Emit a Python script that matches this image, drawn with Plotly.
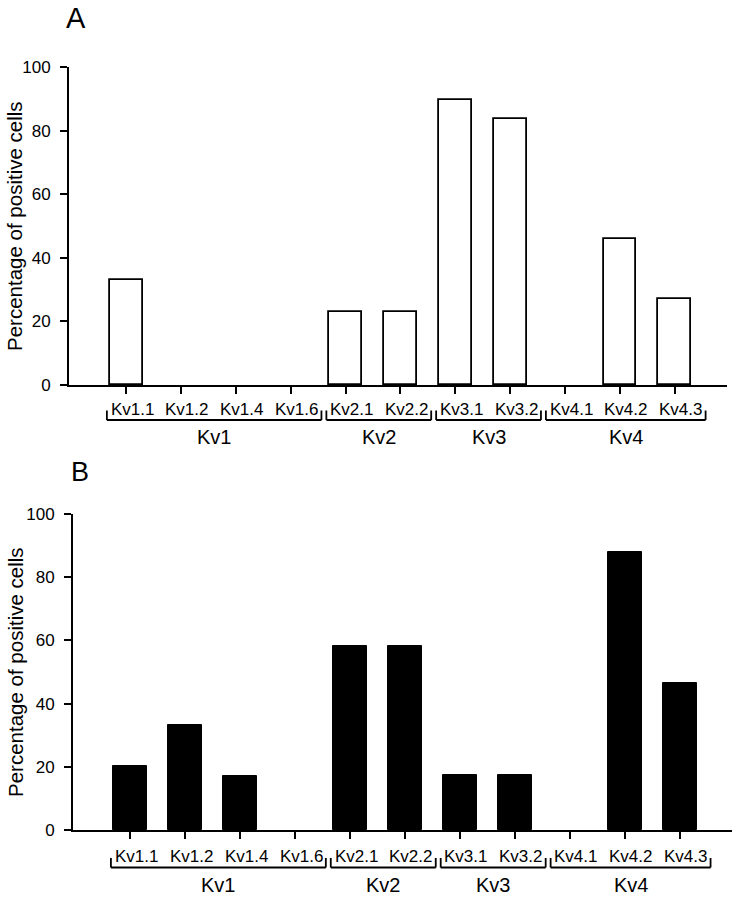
import plotly.graph_objects as go

categories = ["Kv1.1", "Kv1.2", "Kv1.4", "Kv1.6", "Kv2.1", "Kv2.2",
              "Kv3.1", "Kv3.2", "Kv4.1", "Kv4.2", "Kv4.3"]
values_a = [33, 0, 0, 0, 23, 23, 89.5, 83.5, 0, 46, 27]
values_b = [20.3, 33.3, 17.2, 0, 58.3, 58.3, 17.4, 17.4, 0, 88, 46.5]
groups = ["Kv1", "Kv2", "Kv3", "Kv4"]
group_first = [0, 4, 6, 8]
group_last = [3, 5, 7, 10]
y_ticks = [0, 20, 40, 60, 80, 100]
y_title = "Percentage of positive cells"
panel_labels = ["A", "B"]

W, H = 737, 900
FONT = "Liberation Sans, Arial, sans-serif"


def px_y(p):
    return 1 - p / H


def px_x(p):
    return p / W


def visible(vals):
    # zero-valued bars are drawn as nothing (they sit on the axis line)
    return [v if v > 0 else None for v in vals]


# pixel geometry of the two panels (screen pixels)
panels = [
    dict(l=69, r=727, t=67, b=385, lab_dy=24, br_dy=35, brt_dy=25.5, grp_dy=52,
         letter=(76, 18, 29)),
    dict(l=73, r=732, t=514, b=830, lab_dy=26.5, br_dy=37.5, brt_dy=28, grp_dy=55,
         letter=(80, 472, 27)),
]

fig = go.Figure()

fig.add_trace(go.Bar(x=categories, y=visible(values_a), width=0.6,
                     marker=dict(color="white", line=dict(color="black", width=1.8)),
                     xaxis="x", yaxis="y", showlegend=False))
fig.add_trace(go.Bar(x=categories, y=visible(values_b), width=0.62,
                     marker=dict(color="black", line=dict(color="black", width=1)),
                     xaxis="x2", yaxis="y2", showlegend=False))

xr = [-1.04, 10.95]
annotations = []
shapes = []
for k, p in enumerate(panels):
    xa = "x" if k == 0 else "x2"
    ya = "y" if k == 0 else "y2"
    xkey = "xaxis" if k == 0 else "xaxis2"
    ykey = "yaxis" if k == 0 else "yaxis2"
    fig.layout[xkey] = dict(
        domain=[px_x(p["l"]), px_x(p["r"])], anchor=ya, type="category",
        range=xr, showline=True, linecolor="black", linewidth=2,
        ticks="outside", ticklen=7, tickwidth=1.8, tickcolor="black",
        showticklabels=False, showgrid=False, zeroline=False, automargin=False,
        categoryorder="array", categoryarray=categories,
    )
    fig.layout[ykey] = dict(
        domain=[px_y(p["b"]), px_y(p["t"])], anchor=xa,
        range=[0, 100], tickvals=y_ticks, showline=True, linecolor="black",
        linewidth=2, ticks="outside", ticklen=7, tickwidth=1.8, tickcolor="black",
        showgrid=False, zeroline=False, ticklabelstandoff=6, automargin=False,
        tickfont=dict(family=FONT, size=17, color="black"),
    )
    # category labels
    for c in categories:
        annotations.append(dict(
            x=c, y=0, xref=xa, yref=ya, text=c, showarrow=False,
            xshift=6, yshift=-p["lab_dy"], yanchor="middle", xanchor="center",
            font=dict(family=FONT, size=17, color="black")))
    # group brackets
    yb = px_y(p["b"] + p["br_dy"])
    yt = px_y(p["b"] + p["brt_dy"])
    for g, f, l in zip(groups, group_first, group_last):
        x0 = f - 0.35
        x1 = l + 0.56
        line = dict(color="black", width=1.8)
        shapes.append(dict(type="line", xref=xa, yref="paper", x0=x0, x1=x1,
                           y0=yb, y1=yb, line=line))
        shapes.append(dict(type="line", xref=xa, yref="paper", x0=x0, x1=x0,
                           y0=yb, y1=yt, line=line))
        shapes.append(dict(type="line", xref=xa, yref="paper", x0=x1, x1=x1,
                           y0=yb, y1=yt, line=line))
        annotations.append(dict(
            x=(x0 + x1) / 2, y=px_y(p["b"] + p["grp_dy"]), xref=xa, yref="paper",
            text=g, showarrow=False, xanchor="center", yanchor="middle",
            font=dict(family=FONT, size=20, color="black")))
    # y title
    annotations.append(dict(
        x=px_x(15), y=px_y((p["t"] + p["b"]) / 2), xref="paper", yref="paper",
        text=y_title, textangle=-90, showarrow=False, xanchor="center",
        yanchor="middle", font=dict(family=FONT, size=20.5, color="black")))
    # panel letter
    lx, ly, ls = p["letter"]
    annotations.append(dict(
        x=px_x(lx), y=px_y(ly), xref="paper", yref="paper", text=panel_labels[k],
        showarrow=False, xanchor="center", yanchor="middle",
        font=dict(family=FONT, size=ls, color="black")))

fig.update_layout(
    template="none",
    width=W, height=H, margin=dict(l=0, r=0, t=0, b=0, pad=0, autoexpand=False),
    paper_bgcolor="white", plot_bgcolor="white",
    font=dict(family=FONT, color="black"),
    annotations=annotations, shapes=shapes, bargap=0,
)

fig.write_html("out.html",
               config={"displayModeBar": False},
               post_script="document.body.style.margin='0px';document.body.style.overflow='hidden';")
